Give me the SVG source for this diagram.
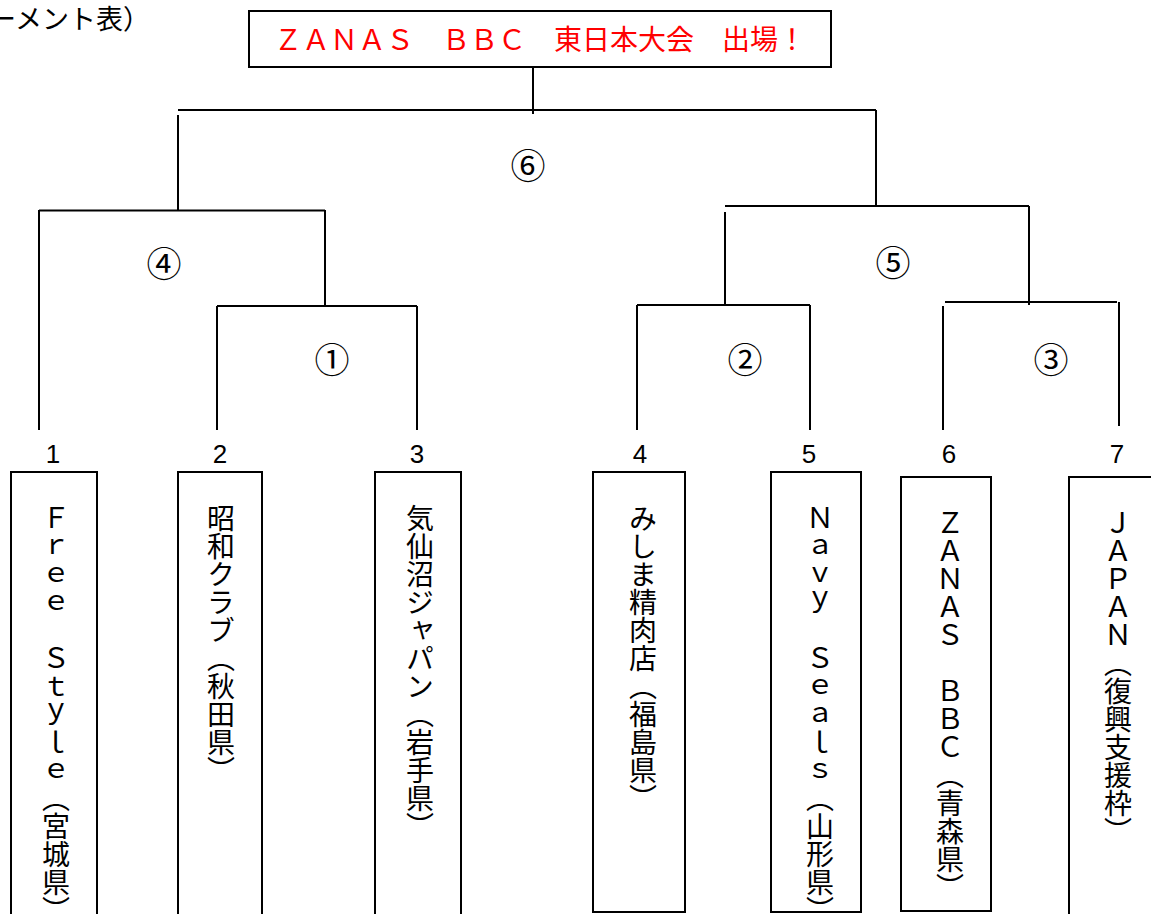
<svg xmlns="http://www.w3.org/2000/svg" width="1151" height="914" viewBox="0 0 1151 914">
  <style>
    .ln { stroke: #000; stroke-width: 2; fill: none; }
    .box { stroke: #000; stroke-width: 2; fill: #fff; }
    .jp { font-family: "Noto Sans CJK JP", "Noto Sans", sans-serif; fill: #000; }
    .num { font-family: "Liberation Sans", Arial, sans-serif; font-size: 26px; fill: #000; text-anchor: middle; }
    .circ { font-family: "Noto Sans CJK JP", "Noto Sans", sans-serif; font-size: 35px; fill: #000; text-anchor: middle; dominant-baseline: central; }
    .vt { font-family: "Noto Sans CJK JP", sans-serif; font-size: 28px; fill: #000; writing-mode: vertical-rl; }
  </style>
  <rect width="1151" height="914" fill="#fff"/>

  <text id="caption" class="jp" x="-11" y="29" font-size="27">ーメント表）</text>

  <g id="title">
    <rect class="box" x="249" y="11" width="582" height="56"/>
    <text x="540" y="50" font-family="Noto Sans CJK JP, sans-serif" font-size="28" fill="#ff0000" text-anchor="middle">ＺＡＮＡＳ　ＢＢＣ　東日本大会　出場！</text>
  </g>

  <g id="connectors">
    <path class="ln" d="M533,66 V114"/>
    <path class="ln" d="M178,110 H876"/>
    <path class="ln" d="M178,115 V210"/>
    <path class="ln" d="M876,110 V206"/>
    <path class="ln" d="M39,210.5 H325"/>
    <path class="ln" d="M39,210 V430"/>
    <path class="ln" d="M325,210 V306"/>
    <path class="ln" d="M217,306 H417"/>
    <path class="ln" d="M217,306 V430"/>
    <path class="ln" d="M417,306 V430"/>
    <path class="ln" d="M725,206 H1029"/>
    <path class="ln" d="M725,212 V305"/>
    <path class="ln" d="M1029,206 V305"/>
    <path class="ln" d="M637,305 H810"/>
    <path class="ln" d="M637,305 V430"/>
    <path class="ln" d="M810,305 V430"/>
    <path class="ln" d="M945,302 H1117"/>
    <path class="ln" d="M943,306 V430"/>
    <path class="ln" d="M1119,302 V426"/>
  </g>

  <g id="matches">
    <text id="m6" class="circ" x="528" y="163">⑥</text>
    <text id="m4" class="circ" x="164" y="261">④</text>
    <text id="m5" class="circ" x="893" y="260">⑤</text>
    <text id="m1" class="circ" x="332" y="357">①</text>
    <text id="m2" class="circ" x="745" y="357">②</text>
    <text id="m3" class="circ" x="1051" y="357">③</text>
  </g>

  <g id="team1">
    <text class="num" x="53" y="463">1</text>
    <rect class="box" x="11" y="472" width="86" height="460"/>
    <text class="vt" x="56" y="504">Ｆｒｅｅ　Ｓｔｙｌｅ（宮城県）</text>
  </g>
  <g id="team2">
    <text class="num" x="220" y="463">2</text>
    <rect class="box" x="178" y="472" width="84" height="460"/>
    <text class="vt" x="221" y="504">昭和クラブ（秋田県）</text>
  </g>
  <g id="team3">
    <text class="num" x="417" y="463">3</text>
    <rect class="box" x="375" y="472" width="86" height="460"/>
    <text class="vt" x="420" y="504">気仙沼ジャパン（岩手県）</text>
  </g>
  <g id="team4">
    <text class="num" x="640" y="463">4</text>
    <rect class="box" x="593" y="472" width="92" height="440"/>
    <text class="vt" x="643" y="504">みしま精肉店（福島県）</text>
  </g>
  <g id="team5">
    <text class="num" x="809" y="463">5</text>
    <rect class="box" x="771" y="472" width="90" height="440"/>
    <text class="vt" x="820" y="504">Ｎａｖｙ　Ｓｅａｌｓ（山形県）</text>
  </g>
  <g id="team6">
    <text class="num" x="949" y="463">6</text>
    <rect class="box" x="901" y="477" width="90" height="434"/>
    <text class="vt" x="950" y="509">ＺＡＮＡＳ　ＢＢＣ（青森県）</text>
  </g>
  <g id="team7">
    <text class="num" x="1117" y="463">7</text>
    <rect class="box" x="1069" y="477" width="100" height="460"/>
    <text class="vt" x="1118" y="509">ＪＡＰＡＮ（復興支援枠）</text>
  </g>
</svg>
